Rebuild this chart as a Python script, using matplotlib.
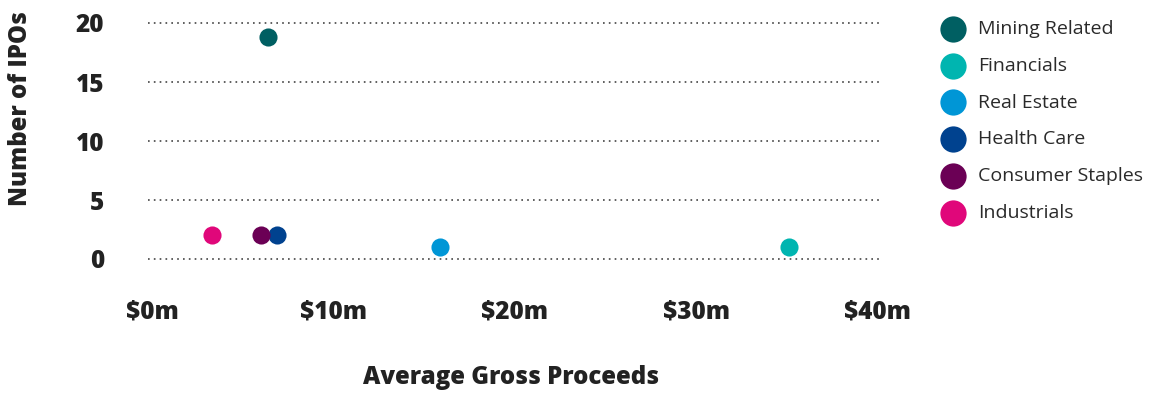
import matplotlib
matplotlib.use("Agg")
import matplotlib.pyplot as plt

sectors = ["Mining Related", "Financials", "Real Estate", "Health Care",
           "Consumer Staples", "Industrials"]
avg_proceeds = [6.4, 35.1, 15.9, 6.9, 6.0, 3.3]
num_ipos = [18.8, 1, 1, 2, 2, 2]
colors = ["#005f62", "#00b5b0", "#0096d6", "#00428f", "#6b0055", "#e0077a"]
x_ticks = [0, 10, 20, 30, 40]
x_tick_labels = ["$0m", "$10m", "$20m", "$30m", "$40m"]
y_ticks = [0, 5, 10, 15, 20]

plt.rcParams['font.family'] = ['Open Sans', 'DejaVu Sans']

W, H = 1152, 394
fig = plt.figure(figsize=(W / 100, H / 100), dpi=100)
left_px, right_px = 148.4, 879.4
top_px, bot_px = 11.2, 270.8
ax = fig.add_axes([left_px / W, 1 - bot_px / H, (right_px - left_px) / W, (bot_px - top_px) / H])
ax.set_xlim(-0.2, 40.1)
ax.set_ylim(-1, 21)

for s, x, y, c in zip(sectors, avg_proceeds, num_ipos, colors):
    ax.scatter([x], [y], s=170, color=c, label=s, zorder=3, linewidths=0)

for sp in ax.spines.values():
    sp.set_visible(False)
ax.set_yticks(y_ticks)
ax.set_yticklabels([str(v) for v in y_ticks], fontsize=17.5, fontweight='heavy', color='#222222')
ax.set_xticks(x_ticks)
ax.set_xticklabels(x_tick_labels, fontsize=17.5, fontweight='heavy', color='#222222')
ax.tick_params(axis='both', length=0)
ax.tick_params(axis='y', pad=32)
ax.tick_params(axis='x', pad=21)
ax.grid(axis='y', linestyle=(0, (1, 2.5)), color='#444444', linewidth=1.2)
ax.grid(axis='x', visible=False)
ax.set_axisbelow(True)

fig.text(511 / W, 1 - 378 / H, "Average Gross Proceeds", ha='center', va='center',
         fontsize=17.3, fontweight='heavy', color='#222222')
fig.text(21 / W, 1 - 109 / H, "Number of IPOs", ha='center', va='center', rotation=90,
         fontsize=17.3, fontweight='heavy', color='#222222')

leg = fig.legend(loc='upper left', bbox_to_anchor=(926 / W, 1 - 12 / H), frameon=False,
                 fontsize=14, labelspacing=0.97, handletextpad=0.3, borderaxespad=0,
                 markerscale=1.45, scatterpoints=1)
for t in leg.get_texts():
    t.set_color('#2a2a2a')

fig.savefig("out.png", dpi=100)
